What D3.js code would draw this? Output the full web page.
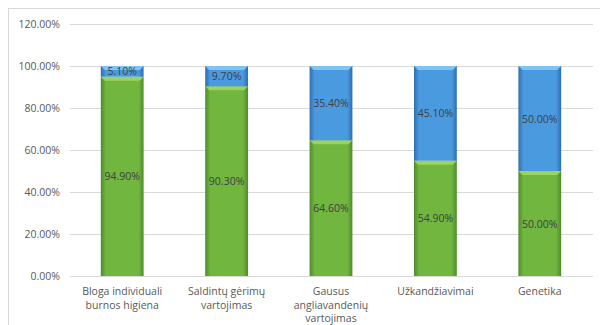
<!DOCTYPE html>
<html>
<head>
<meta charset="utf-8">
<script src="https://cdn.jsdelivr.net/npm/d3@7"></script>
<style>
  body { margin: 0; background: #fff; }
  svg { font-family: "Open Sans", "Noto Sans", sans-serif; }
</style>
</head>
<body>
<svg id="chart" width="600" height="325"></svg>
<script>
// data
var categories = [
    ["Bloga individuali", "burnos higiena"],
    ["Saldintų gėrimų", "vartojimas"],
    ["Gausus", "angliavandenių", "vartojimas"],
    ["Užkandžiavimai"],
    ["Genetika"]
]
var greenValues = [94.9, 90.3, 64.6, 54.9, 50.0]
var blueValues = [5.1, 9.7, 35.4, 45.1, 50.0]
var yTicks = [0, 20, 40, 60, 80, 100, 120]

var svg = d3.select('#chart')

// outer frame
svg.append('rect')
    .attr('x', 8.5).attr('y', 8.5)
    .attr('width', 640).attr('height', 340)
    .attr('fill', 'none')
    .attr('stroke', '#d9d9d9')

var x = d3.scaleBand()
    .domain(d3.range(categories.length))
    .range([70, 592])
    .paddingInner(0.59)
    .paddingOuter(0.295)

var y = d3.scaleLinear()
    .domain([0, 120])
    .range([276, 24])

// gradients
var defs = svg.append('defs')
function grad(id, edge, mid) {
    var g = defs.append('linearGradient').attr('id', id)
        .attr('x1', 0).attr('x2', 1).attr('y1', 0).attr('y2', 0)
    g.append('stop').attr('offset', '0%').attr('stop-color', edge)
    g.append('stop').attr('offset', '12%').attr('stop-color', mid)
    g.append('stop').attr('offset', '88%').attr('stop-color', mid)
    g.append('stop').attr('offset', '100%').attr('stop-color', edge)
}
grad('gGreen', '#4f8b2b', '#70b63f')
grad('gBlue', '#2f6eae', '#4a9ae0')

// gridlines
svg.append('g').selectAll('line')
    .data(yTicks)
    .enter().append('line')
    .attr('x1', 70).attr('x2', 593)
    .attr('y1', function (d) { return Math.round(y(d)) + 0.5 })
    .attr('y2', function (d) { return Math.round(y(d)) + 0.5 })
    .attr('stroke', '#d9d9d9')

// y labels
svg.append('g').selectAll('text')
    .data(yTicks)
    .enter().append('text')
    .attr('x', 60)
    .attr('y', function (d) { return y(d) + 4 })
    .attr('text-anchor', 'end')
    .attr('font-size', '10.5px')
    .attr('fill', '#595959')
    .text(function (d) { return d.toFixed(2) + '%' })

var bw = x.bandwidth()
var bars = svg.append('g')

// green segments
bars.selectAll('.green')
    .data(greenValues)
    .enter().append('rect')
    .attr('class', 'green')
    .attr('x', function (d, i) { return x(i) })
    .attr('y', function (d) { return y(d) })
    .attr('width', bw)
    .attr('height', function (d) { return y(0) - y(d) })
    .attr('fill', 'url(#gGreen)')

bars.selectAll('.greenTop')
    .data(greenValues)
    .enter().append('path')
    .attr('class', 'greenTop')
    .attr('d', function (d, i) {
        var x0 = x(i), yy = y(d)
        return 'M' + x0 + ',' + yy + 'H' + (x0 + bw) + 'L' + (x0 + bw - 4) + ',' + (yy + 4) + 'H' + (x0 + 4) + 'Z'
    })
    .attr('fill', '#9bd35c')

// blue segments
bars.selectAll('.blue')
    .data(blueValues)
    .enter().append('rect')
    .attr('class', 'blue')
    .attr('x', function (d, i) { return x(i) })
    .attr('y', function (d, i) { return y(greenValues[i] + d) })
    .attr('width', bw)
    .attr('height', function (d) { return y(0) - y(d) })
    .attr('fill', 'url(#gBlue)')

bars.selectAll('.blueTop')
    .data(blueValues)
    .enter().append('path')
    .attr('class', 'blueTop')
    .attr('d', function (d, i) {
        var x0 = x(i), yy = y(greenValues[i] + d)
        return 'M' + x0 + ',' + yy + 'H' + (x0 + bw) + 'L' + (x0 + bw - 4) + ',' + (yy + 4) + 'H' + (x0 + 4) + 'Z'
    })
    .attr('fill', '#7ec3f3')

// data labels
svg.append('g').selectAll('text')
    .data(greenValues)
    .enter().append('text')
    .attr('x', function (d, i) { return x(i) + bw / 2 })
    .attr('y', function (d) { return y(d / 2) + 4 })
    .attr('text-anchor', 'middle')
    .attr('font-size', '10.5px')
    .attr('fill', '#404040')
    .text(function (d) { return d.toFixed(2) + '%' })

svg.append('g').selectAll('text')
    .data(blueValues)
    .enter().append('text')
    .attr('x', function (d, i) { return x(i) + bw / 2 })
    .attr('y', function (d, i) { return y(greenValues[i] + d / 2) + 4 })
    .attr('text-anchor', 'middle')
    .attr('font-size', '10.5px')
    .attr('fill', '#404040')
    .text(function (d) { return d.toFixed(2) + '%' })

// category labels
var cat = svg.append('g').selectAll('text')
    .data(categories)
    .enter().append('text')
    .attr('x', function (d, i) { return x(i) + bw / 2 })
    .attr('y', 295)
    .attr('text-anchor', 'middle')
    .attr('font-size', '10.5px')
    .attr('fill', '#595959')

cat.selectAll('tspan')
    .data(function (d) { return d })
    .enter().append('tspan')
    .attr('x', function () { return d3.select(this.parentNode).attr('x') })
    .attr('dy', function (d, i) { return i == 0 ? 0 : 13.5 })
    .text(function (d) { return d })
</script>
</body>
</html>
